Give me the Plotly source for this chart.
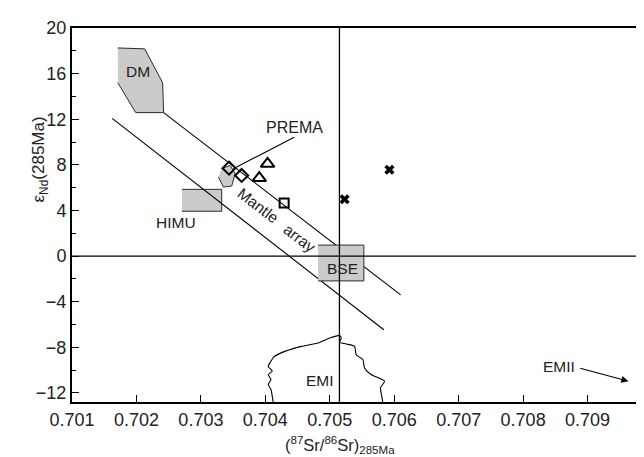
import plotly.graph_objects as go

# ---------------- data ----------------
dm_sr = [0.701711, 0.702128, 0.702406, 0.702422, 0.701989, 0.701711]
dm_nd = [18.25, 18.17, 15.2, 12.58, 12.58, 15.2]

prema_sr = [0.703323, 0.703453, 0.703530, 0.703478, 0.703349, 0.703272]
prema_nd = [7.66, 7.95, 7.22, 6.14, 6.05, 6.93]

himu_sr = [0.702705, 0.703323, 0.703323, 0.702705]
himu_nd = [5.85, 5.85, 3.93, 3.93]

bse_sr = [0.704818, 0.705529, 0.705529, 0.704818]
bse_nd = [0.96, 0.96, -2.18, -2.18]

upper_array_sr = [0.702422, 0.706100]
upper_array_nd = [12.58, -3.41]
lower_array_sr = [0.701623, 0.705838]
lower_array_nd = [12.08, -6.46]

emi_sr = [0.704122, 0.704087, 0.704045, 0.704087, 0.704045, 0.704107, 0.704045,
          0.704071, 0.704138, 0.704303, 0.704560, 0.704818, 0.704998, 0.705153,
          0.705178, 0.705153, 0.705255, 0.705385, 0.705410, 0.705513, 0.705539,
          0.705641, 0.705849, 0.705787, 0.705807, 0.705822]
emi_nd = [-12.84, -11.70, -11.27, -10.83, -10.39, -10.10, -9.67,
          -9.37, -8.82, -8.36, -7.92, -7.62, -7.19, -6.96,
          -7.19, -7.55, -7.71, -7.92, -8.65, -9.08, -9.81,
          -10.39, -10.98, -11.55, -12.29, -12.84]

diamond_sr = [0.703437, 0.703632]
diamond_nd = [7.71, 7.07]
triangle_sr = [0.704035, 0.703906]
triangle_nd = [8.09, 6.84]
square_sr = [0.704292]
square_nd = [4.66]
cross_sr = [0.705230, 0.705926]
cross_nd = [4.98, 7.57]

prema_leader_sr = [0.704447, 0.703504]
prema_leader_nd = [10.42, 7.66]

bse_sr_line = 0.70515

x_ticks = [0.701, 0.702, 0.703, 0.704, 0.705, 0.706, 0.707, 0.708, 0.709]
x_ticktext = ["0.701", "0.702", "0.703", "0.704", "0.705", "0.706", "0.707", "0.708", "0.709"]
y_ticks = [-12, -8, -4, 0, 4, 8, 12, 16, 20]

FONT = "Liberation Sans, Arial, sans-serif"
FILL = "#cbcbcb"
EDGE = "#2a2a2a"

fig = go.Figure()

def poly(xs, ys):
    fig.add_trace(go.Scatter(x=xs, y=ys, mode="lines", fill="toself",
                             fillcolor=FILL, line=dict(color=EDGE, width=1),
                             hoverinfo="skip", showlegend=False))

poly(dm_sr, dm_nd)
poly(prema_sr, prema_nd)
poly(himu_sr, himu_nd)

for xs, ys in [(upper_array_sr, upper_array_nd), (lower_array_sr, lower_array_nd),
               (prema_leader_sr, prema_leader_nd)]:
    fig.add_trace(go.Scatter(x=xs, y=ys, mode="lines",
                             line=dict(color="black", width=1.1),
                             hoverinfo="skip", showlegend=False))

poly(bse_sr, bse_nd)

fig.add_trace(go.Scatter(x=emi_sr, y=emi_nd, mode="lines",
                         line=dict(color="black", width=1.1, shape="spline", smoothing=0.6),
                         hoverinfo="skip", showlegend=False))

fig.add_trace(go.Scatter(x=diamond_sr, y=diamond_nd, mode="markers",
                         marker=dict(symbol="diamond-open", size=10, color="black",
                                     line=dict(width=2)), showlegend=False))
fig.add_trace(go.Scatter(x=triangle_sr, y=triangle_nd, mode="markers",
                         marker=dict(symbol="triangle-up-open", size=12, color="black",
                                     line=dict(width=2)), showlegend=False))
fig.add_trace(go.Scatter(x=square_sr, y=square_nd, mode="markers",
                         marker=dict(symbol="square-open", size=9, color="black",
                                     line=dict(width=2)), showlegend=False))
fig.add_trace(go.Scatter(x=cross_sr, y=cross_nd, mode="markers",
                         marker=dict(symbol="x", size=9, color="black",
                                     line=dict(width=0)), showlegend=False))

# reference lines
fig.add_shape(type="line", xref="paper", yref="y", x0=0, x1=1, y0=0, y1=0,
              line=dict(color="black", width=1.3))
fig.add_shape(type="line", xref="x", yref="paper", x0=bse_sr_line, x1=bse_sr_line,
              y0=0, y1=1, line=dict(color="black", width=1.3))

def label(x, y, text, size=15.5, angle=0):
    fig.add_annotation(x=x, y=y, text=text, showarrow=False, textangle=angle,
                       font=dict(family=FONT, size=size, color="#222"))

label(0.70202, 16.2, "DM")
label(0.704447, 11.3, "PREMA", size=16)
label(0.70261, 2.9, "HIMU")
label(0.705204, -1.08, "BSE")
label(0.704844, -10.9, "EMI")
label(0.708558, -9.69, "EMII")
label(0.70389, 4.45, "Mantle", angle=37.6)
label(0.70454, 1.57, "array", angle=37.6)

fig.add_annotation(x=0.709635, y=-10.98, ax=0.708862, ay=-9.81,
                   xref="x", yref="y", axref="x", ayref="y", text="",
                   showarrow=True, arrowhead=2, arrowsize=1.3, arrowwidth=1.1,
                   arrowcolor="black")

# y title
fig.add_annotation(xref="paper", yref="y", x=-0.077, y=8.5,
                   text="ε<sub>Nd</sub>(285Ma)", showarrow=False, textangle=-90,
                   font=dict(family=FONT, size=17, color="#222"))
# x title
fig.add_annotation(xref="paper", yref="paper", x=0.462, y=-0.149, yanchor="bottom",
                   text="(<sup>87</sup>Sr/<sup>86</sup>Sr)<sub>285Ma</sub>", showarrow=False,
                   font=dict(family=FONT, size=16.5, color="#222"))

fig.update_layout(
    width=644, height=457,
    margin=dict(l=64, r=0, t=20, b=63),
    paper_bgcolor="white", plot_bgcolor="white",
    font=dict(family=FONT, size=18, color="#222"),
    showlegend=False,
)
fig.update_xaxes(range=[0.701, 0.710], tickvals=x_ticks, ticktext=x_ticktext,
                 ticks="inside", ticklen=7, tickwidth=1.2, tickcolor="black",
                 showline=True, linecolor="black", linewidth=2, mirror=True,
                 showgrid=False, zeroline=False,
                 tickfont=dict(family=FONT, size=18, color="#222"))
fig.update_yaxes(range=[-12.8, 20], tickvals=y_ticks,
                 ticks="inside", ticklen=7, tickwidth=1.2, tickcolor="black",
                 minor=dict(dtick=2, tick0=0, ticks="inside", ticklen=4, tickcolor="black"),
                 showline=True, linecolor="black", linewidth=2,
                 showgrid=False, zeroline=False,
                 tickfont=dict(family=FONT, size=18, color="#222"))

fig.write_html("out.html")
